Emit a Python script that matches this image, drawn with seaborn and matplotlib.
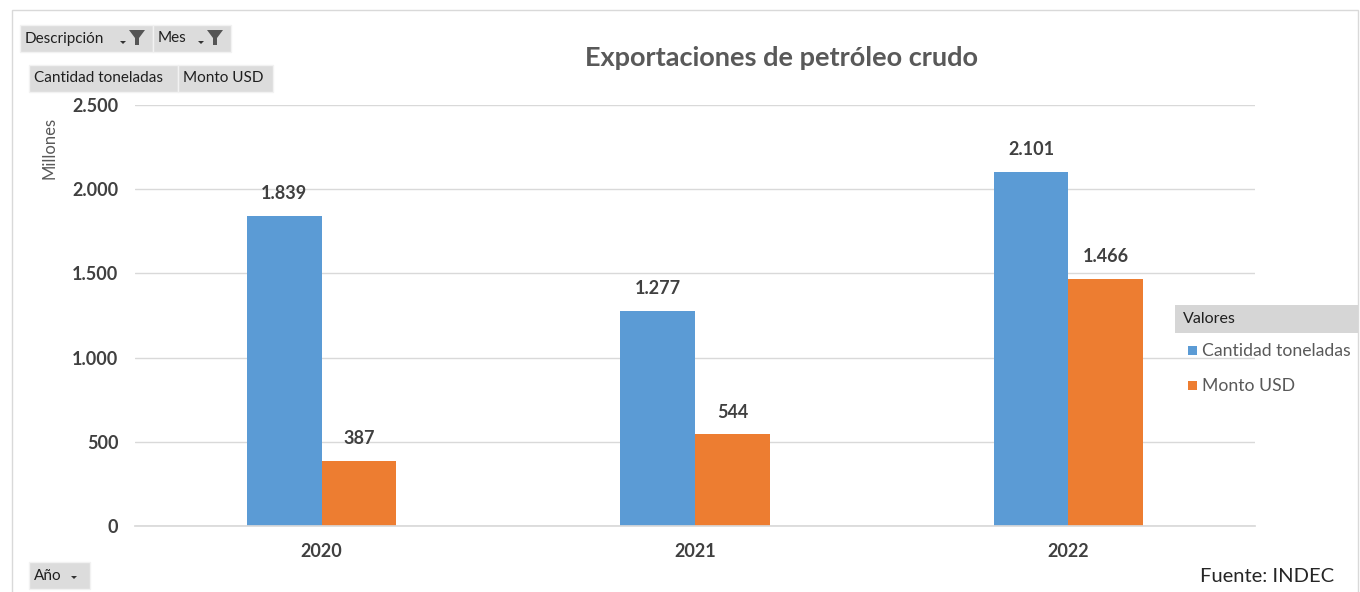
import matplotlib
matplotlib.use('Agg')
import matplotlib.pyplot as plt
import seaborn as sns
import pandas as pd
from matplotlib.patches import Rectangle, Polygon
from matplotlib.ticker import FuncFormatter

years = ['2020', '2021', '2022']
toneladas = [1839, 1277, 2101]
monto_usd = [387, 544, 1466]
series = ['Cantidad toneladas', 'Monto USD']
colors = ['#5B9BD5', '#ED7D31']

df = pd.DataFrame({
    'Año': years * 2,
    'Serie': [series[0]] * 3 + [series[1]] * 3,
    'Valor': toneladas + monto_usd,
})

sns.set_theme(style='white')
plt.rcParams['font.family'] = ['Lato', 'DejaVu Sans']

W, H = 1360, 592
fig = plt.figure(figsize=(W / 100, H / 100), dpi=100)
ax = fig.add_axes([135 / W, 1 - 526 / H, 1120 / W, 421 / H])

sns.barplot(data=df, x='Año', y='Valor', hue='Serie', palette=colors,
            width=0.4, gap=0, ax=ax, legend=False, saturation=1, linewidth=0)

ax.set_ylim(0, 2500)
ax.set_xlim(-0.5, 2.5)
ax.set_yticks(range(0, 2501, 500))
ax.yaxis.set_major_formatter(FuncFormatter(lambda v, p: f'{int(v):,}'.replace(',', '.')))
ax.grid(axis='y', color='#D9D9D9', linewidth=1)
ax.set_axisbelow(True)
for s in ['top', 'right', 'left']:
    ax.spines[s].set_visible(False)
ax.spines['bottom'].set_color('#D9D9D9')
ax.tick_params(axis='both', length=0, labelsize=13, labelcolor='#404040', pad=12)
for lbl in ax.get_xticklabels() + ax.get_yticklabels():
    lbl.set_fontweight('bold')
ax.set_xlabel('')
ax.set_ylabel('')
fig.text(50 / W, 1 - 148 / H, 'Millones', rotation=90, ha='center', va='center',
         fontsize=12, color='#595959')

for cont in ax.containers:
    ax.bar_label(cont, labels=[f'{int(v):,}'.replace(',', '.') for v in cont.datavalues],
                 padding=10, fontsize=13, fontweight='bold', color='#404040')

fig.text(782 / W, 1 - 58 / H, 'Exportaciones de petróleo crudo', ha='center', va='center',
         fontsize=19.5, fontweight='bold', color='#595959')
fig.text(1267 / W, 1 - 577 / H, 'Fuente: INDEC', ha='center', va='center',
         fontsize=14.5, color='#262626')

# outer frame
fig.add_artist(Rectangle((12 / W, -0.1), (1358 - 12) / W, 1.1 - 10 / H,
                         transform=fig.transFigure, fill=False, edgecolor='#D9D9D9', lw=1))


def button(x0, y0, x1, y1, text, fs=11):
    fig.add_artist(Rectangle((x0 / W, 1 - y1 / H), (x1 - x0) / W, (y1 - y0) / H,
                             transform=fig.transFigure, facecolor='#DCDCDC',
                             edgecolor='#F2F2F2', lw=1))
    fig.text((x0 + 5) / W, 1 - (y0 + y1) / 2 / H, text, ha='left', va='center',
             fontsize=fs, color='#1F1F1F')


def funnel(cx, cy):
    pts = [(cx - 8, cy - 7), (cx + 8, cy - 7), (cx + 2, cy + 1), (cx + 2, cy + 8), (cx - 2, cy + 8), (cx - 2, cy + 1)]
    fig.add_artist(Polygon([(x / W, 1 - y / H) for x, y in pts], closed=True,
                           transform=fig.transFigure, facecolor='#555555', edgecolor='none'))


def arrow(cx, cy):
    pts = [(cx - 3, cy - 1), (cx + 3, cy - 1), (cx, cy + 2)]
    fig.add_artist(Polygon([(x / W, 1 - y / H) for x, y in pts], closed=True,
                           transform=fig.transFigure, facecolor='#333333', edgecolor='none'))


button(20, 25, 153, 52, 'Descripción')
arrow(123, 42)
funnel(137, 37)
button(153, 25, 231, 52, 'Mes')
arrow(201, 42)
funnel(215, 37)
button(29, 65, 178, 92, 'Cantidad toneladas')
button(178, 65, 273, 92, 'Monto USD')
button(29, 562, 90, 589, 'Año')
arrow(74, 577)

# legend
fig.add_artist(Rectangle((1175 / W, 1 - 333 / H), (1358 - 1175) / W, 28 / H,
                         transform=fig.transFigure, facecolor='#D6D6D6', edgecolor='none'))
fig.text(1183 / W, 1 - 319 / H, 'Valores', ha='left', va='center', fontsize=11.5, color='#1F1F1F')
for i, (name, c) in enumerate(zip(series, colors)):
    yy = 351 + i * 35
    fig.add_artist(Rectangle((1188 / W, 1 - (yy + 4) / H), 9 / W, 9 / H,
                             transform=fig.transFigure, facecolor=c, edgecolor='none'))
    fig.text(1202 / W, 1 - yy / H, name, ha='left', va='center', fontsize=12.7, color='#595959')

fig.savefig('out.png', dpi=100)
